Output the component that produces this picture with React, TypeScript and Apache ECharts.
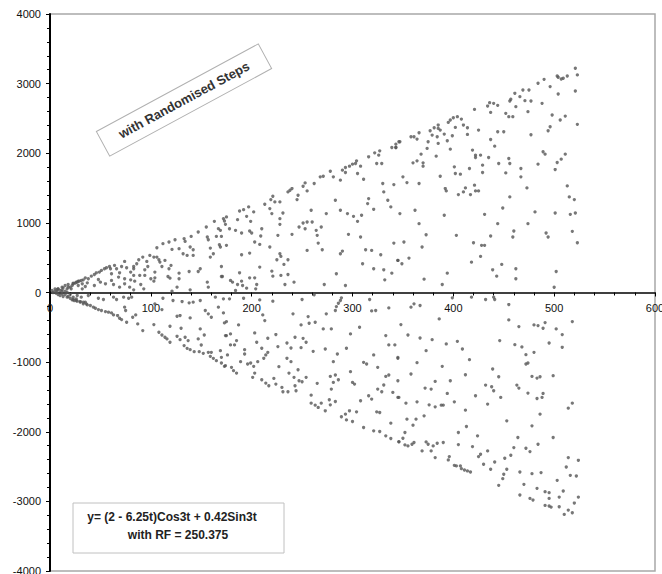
import React, { useEffect, useRef } from "react";
import * as echarts from "echarts";

// Axis ranges and tick spacing
const xRange = [0, 600];
const xStep = 100;
const yRange = [-4000, 4000];
const yStep = 1000;

// Annotation texts
const noteTitle = "with Randomised Steps";
const formulaLine1 = "y= (2 - 6.25t)Cos3t + 0.42Sin3t";
const formulaLine2 = "with RF = 250.375";

// Points, grouped by region: [t, y]
const pointsOrigin: [number, number][] = [
  [5,19],[7,38],[8,53],[10,29],[12,38],[13,67],[15,19],[17,53],[18,77],[8,-29],[10,-43],[12,-19],[13,-58],[15,-29],[18,-58],[20,-29],[22,101],[23,125],[25,134],[27,149],[29,163],[32,125],[33,182],[22,-106],[24,-115],[26,-91],[27,-125],[30,-139],[33,-163],[35,-139],[37,-178],[23,-67],[27,-43],[3,0],[6,-10],[7,10],[12,10],[17,0]
];

const pointsUpperLeft: [number, number][] = [
  [172,1061],[163,1022],[155,941],[167,917],[170,806],[165,806],[156,797],[157,758],[147,869],[140,806],[133,773],[134,734],[139,653],[124,758],[118,725],[112,701],[106,643],[121,619],[128,629],[132,557],[136,533],[142,533],[142,614],[159,638],[168,686],[159,509],[162,557],[170,374],[170,230],[156,149],[157,77],[149,341],[147,302],[138,302],[128,278],[119,206],[117,230],[128,197],[126,77],[139,38],[114,461],[118,341],[120,389],[108,470],[106,509],[103,509],[109,437],[111,374],[104,211],[97,374],[94,326],[96,446],[99,533],[92,509],[88,470],[86,413],[94,245],[89,245],[83,245],[80,182],[84,163],[90,115],[83,374],[83,341],[80,293],[76,355],[74,446],[71,374],[69,283],[68,221],[74,197],[63,115],[69,77],[79,77],[61,269],[60,341],[64,389],[66,341],[59,374],[56,355],[54,341],[51,317],[49,293],[46,283],[44,259],[41,235],[38,197],[35,211],[31,173],[28,163],[26,149],[23,134],[48,187],[50,149],[55,125],[32,53],[35,86],[44,101],[61,173],[74,125],[100,197],[103,163],[104,293],[121,19],[93,53],[83,38],[15,101],[18,115],[20,77],[12,77],[8,53],[5,53],[2,29],[21,53],[28,101],[37,139]
];

const pointsLowerLeft: [number, number][] = [
  [174,-1051],[170,-1013],[165,-979],[162,-946],[159,-917],[157,-859],[152,-874],[148,-850],[143,-850],[139,-821],[136,-802],[133,-763],[150,-754],[147,-667],[149,-523],[153,-610],[160,-859],[134,-643],[137,-691],[129,-677],[126,-629],[130,-514],[119,-485],[116,-667],[119,-715],[114,-643],[111,-610],[108,-571],[103,-461],[92,-547],[87,-451],[85,-322],[111,-245],[104,-163],[75,-259],[74,-211],[82,-355],[76,-427],[71,-389],[69,-370],[67,-331],[63,-322],[61,-293],[58,-283],[55,-274],[51,-259],[48,-245],[45,-226],[43,-211],[40,-187],[36,-163],[33,-139],[30,-130],[26,-115],[23,-101],[20,-82],[17,-67],[31,-67],[38,-43],[48,-82],[53,-101],[63,-67],[66,-101],[73,-67],[78,-82],[81,-67],[122,-115],[131,-130],[138,-149],[142,-139],[149,-115],[129,-331],[126,-341],[139,-365],[154,-259],[157,-307],[160,-355],[167,-211],[164,-67],[174,-619],[112,-82]
];

const pointsUpperMid: [number, number][] = [
  [346,2165],[343,2083],[339,2083],[327,2035],[322,2006],[326,1973],[324,1853],[329,1853],[316,1949],[304,1891],[303,1853],[300,1843],[297,1814],[293,1795],[308,1814],[290,1757],[293,1723],[305,1709],[311,1627],[288,1613],[281,1661],[278,1742],[268,1661],[271,1670],[262,1565],[253,1574],[251,1526],[255,1459],[238,1469],[236,1445],[240,1493],[246,1397],[245,1334],[221,1382],[219,1334],[223,1301],[228,1301],[213,1267],[218,1205],[220,1133],[231,1142],[228,1061],[228,979],[202,1157],[197,1229],[192,1190],[188,1171],[195,1094],[199,1022],[186,1046],[175,1085],[173,1027],[174,979],[178,916],[184,893],[169,893],[190,854],[198,883],[200,854],[210,916],[209,811],[203,725],[208,691],[218,653],[198,566],[190,542],[175,677],[169,653],[226,821],[240,835],[247,941],[251,998],[255,1013],[260,1013],[253,916],[264,893],[269,941],[259,1181],[274,1133],[265,821],[266,710],[270,614],[255,605],[228,557],[229,518],[225,470],[236,470],[232,403],[220,307],[221,235],[229,245],[236,259],[233,115],[242,149],[208,365],[198,211],[203,211],[205,115],[204,53],[188,283],[190,163],[181,149],[179,173],[186,115],[191,101],[195,62],[171,230],[184,29],[283,1325],[288,1181],[295,1133],[301,1094],[305,1022],[309,1109],[315,1277],[316,1349],[321,1195],[330,1565],[331,1445],[335,1325],[338,1229],[341,1550],[341,710],[345,461],[296,835],[308,797],[313,614],[319,605],[328,542],[310,413],[321,341],[331,326],[332,182],[339,278],[284,269],[288,557],[290,595],[293,101],[272,115]
];

const pointsLowerMid: [number, number][] = [
  [172,-91],[178,-91],[192,-82],[208,-106],[221,-125],[250,-101],[262,-34],[211,-322],[213,-403],[241,-307],[256,-346],[257,-442],[249,-466],[263,-427],[274,-307],[271,-523],[279,-523],[283,-259],[284,-202],[286,-154],[288,-115],[289,-77],[319,-264],[323,-259],[336,-221],[317,-101],[307,-499],[298,-595],[294,-801],[273,-811],[261,-845],[254,-715],[251,-658],[249,-792],[243,-643],[239,-797],[235,-725],[235,-945],[239,-993],[224,-604],[226,-777],[216,-657],[210,-801],[205,-715],[203,-581],[212,-945],[214,-897],[216,-859],[206,-993],[202,-1061],[199,-1013],[196,-1027],[193,-883],[193,-821],[185,-691],[183,-753],[179,-753],[175,-619],[179,-595],[187,-466],[175,-418],[173,-437],[172,-293],[176,-897],[169,-835],[170,-931],[173,-1061],[180,-1075],[182,-1123],[185,-1157],[189,-993],[203,-1157],[201,-1219],[210,-1253],[214,-1301],[217,-1339],[222,-1234],[224,-1315],[230,-1363],[231,-1426],[236,-1426],[237,-1157],[242,-1219],[243,-1339],[244,-1411],[247,-1267],[250,-1282],[246,-1109],[254,-1219],[227,-1065],[265,-1305],[259,-1474],[259,-1589],[263,-1618],[266,-1651],[269,-1589],[273,-1699],[277,-1541],[283,-1565],[278,-1613],[279,-1387],[278,-1205],[283,-1185],[281,-1291],[286,-1253],[281,-993],[285,-883],[298,-1137],[300,-1291],[302,-1315],[311,-1003],[314,-1027],[321,-897],[325,-1075],[333,-1205],[336,-1185],[331,-1329],[325,-1387],[329,-1425],[340,-1435],[345,-1507],[319,-1531],[316,-1483],[308,-1555],[324,-1714],[327,-1723],[297,-1699],[304,-1714],[293,-1747],[289,-1785],[294,-1830],[300,-1853],[311,-1939],[321,-1987],[327,-1997],[333,-2059],[338,-2097],[338,-1877],[346,-2146],[333,-619],[336,-753],[342,-753],[345,-931]
];

const pointsUpperRight: [number, number][] = [
  [521,3221],[523,3125],[521,2894],[523,2415],[513,3110],[509,3077],[507,3067],[504,3091],[503,3110],[504,2851],[506,2477],[511,2534],[498,2549],[496,2381],[494,2323],[496,2957],[490,3062],[484,3005],[488,2717],[475,2909],[469,2909],[466,2813],[471,2755],[477,2750],[474,2597],[477,2266],[461,2861],[457,2775],[456,2750],[462,2669],[452,2573],[455,2525],[459,2525],[450,2309],[444,2309],[444,2688],[440,2717],[436,2726],[434,2678],[437,2587],[421,2630],[437,2198],[441,2102],[425,2333],[408,2491],[404,2525],[400,2510],[397,2477],[395,2443],[402,2371],[410,2405],[414,2366],[414,2270],[399,2251],[394,2179],[397,2059],[391,2275],[385,2405],[385,2357],[381,2366],[387,2333],[377,2323],[379,2261],[384,2237],[385,2141],[375,2165],[374,2069],[383,1958],[366,2294],[364,2203],[358,2237],[361,2237],[347,2165],[343,2131],[343,2083],[368,1987],[370,1862],[370,1814],[364,1891],[360,1862],[350,1661],[354,1579],[366,1565],[347,1133],[362,1181],[366,989],[373,830],[351,725],[369,653],[345,461],[349,413],[356,494],[371,192],[389,115],[394,278],[391,1109],[387,1670],[392,1493],[393,1459],[401,1805],[402,1709],[407,1699],[405,1406],[410,1445],[412,1502],[417,1406],[421,1541],[422,1459],[425,1459],[416,1781],[419,2045],[422,1973],[422,1939],[427,1973],[429,1829],[429,1723],[435,1939],[445,1853],[452,1718],[455,1925],[456,1853],[456,1373],[449,1214],[431,1123],[420,715],[428,677],[431,677],[437,811],[444,989],[427,518],[418,436],[439,326],[448,403],[443,235],[462,341],[462,197],[459,797],[460,883],[474,989],[481,1157],[467,1661],[467,1781],[473,1502],[484,1843],[489,2021],[491,1987],[501,1766],[503,1867],[507,1915],[511,1987],[513,1531],[515,1373],[520,1334],[516,1123],[521,1142],[518,878],[523,715],[501,1142],[492,854],[494,797],[502,302],[500,76],[403,821]
];

const pointsLowerRight: [number, number][] = [
  [518,-418],[508,-605],[508,-787],[502,-523],[495,-725],[491,-432],[489,-514],[484,-475],[480,-466],[480,-859],[499,-1195],[486,-1210],[483,-1229],[478,-1205],[474,-1013],[472,-1027],[472,-893],[468,-782],[461,-749],[465,-490],[455,-394],[455,-173],[446,-691],[439,-1099],[445,-1210],[438,-1354],[440,-1411],[434,-1603],[432,-1330],[447,-1507],[463,-1330],[465,-1373],[474,-1445],[489,-1450],[488,-1507],[483,-1522],[486,-1747],[478,-1915],[484,-2179],[499,-2083],[514,-1661],[518,-1589],[453,-1843],[464,-2083],[460,-2227],[457,-2338],[451,-2381],[453,-2539],[450,-2611],[449,-2674],[445,-2770],[441,-2434],[437,-2539],[434,-2275],[430,-2467],[427,-2323],[425,-2357],[424,-2059],[419,-2213],[417,-2578],[414,-2563],[411,-2549],[408,-2530],[407,-2491],[403,-2491],[401,-2482],[396,-2357],[395,-2405],[405,-2184],[405,-2011],[413,-1925],[412,-1690],[401,-1570],[394,-1450],[397,-1267],[390,-1618],[388,-1618],[382,-1642],[376,-1613],[382,-1277],[378,-1387],[372,-1373],[371,-1771],[364,-1570],[364,-1008],[358,-1171],[355,-610],[358,-211],[361,-163],[367,-187],[367,-653],[373,-835],[379,-677],[386,-379],[389,-1061],[393,-739],[404,-701],[409,-811],[416,-965],[412,-1181],[422,-1483],[348,-461],[345,-946],[345,-1267],[346,-1507],[353,-1589],[354,-1819],[360,-1906],[363,-1819],[352,-2011],[350,-2093],[346,-2141],[352,-2189],[355,-2203],[359,-2179],[361,-2155],[369,-2275],[373,-2146],[375,-2179],[378,-2275],[380,-2203],[384,-2165],[390,-2155],[382,-2371],[466,-2578],[470,-2755],[466,-2909],[476,-2957],[479,-2981],[483,-2813],[478,-2602],[487,-2587],[491,-2861],[495,-2875],[495,-2957],[491,-3058],[495,-3067],[497,-3082],[505,-3077],[505,-2938],[509,-2851],[503,-2698],[512,-2506],[514,-2371],[516,-2626],[522,-2635],[524,-2410],[524,-2938],[520,-3024],[518,-3163],[514,-3125],[510,-3187],[432,-101],[440,-67],[441,-101],[418,-67],[399,-77],[472,-2237],[476,-2285]
];

const allPoints = [
  ...pointsOrigin,
  ...pointsUpperLeft,
  ...pointsLowerLeft,
  ...pointsUpperMid,
  ...pointsLowerMid,
  ...pointsUpperRight,
  ...pointsLowerRight,
];

const FONT = '"Liberation Sans", Arial, sans-serif';
const W = 662;
const H = 574;
const GRID_TOP = 14;
const GRID_BOTTOM = 3;
const GRID_H = H - GRID_TOP - GRID_BOTTOM;

export default function App() {
  const ref = useRef<HTMLDivElement>(null);

  useEffect(() => {
    if (!ref.current) return;
    const chart = echarts.init(ref.current, null, { renderer: "svg" });
    const plain = (v: number) => String(v);
    chart.setOption({
      animation: false,
      backgroundColor: "#ffffff",
      grid: {
        left: 50,
        right: 7,
        top: GRID_TOP,
        bottom: GRID_BOTTOM,
        show: true,
        borderColor: "#a8a8a8",
        borderWidth: 1.5,
        backgroundColor: "transparent",
        containLabel: false,
        outerBoundsMode: "none",
      },
      xAxis: {
        type: "value",
        min: xRange[0],
        max: xRange[1],
        interval: xStep,
        position: "bottom",
        offset: -GRID_H / 2,
        axisLine: { show: true, onZero: false, lineStyle: { color: "#000", width: 1.5 } },
        axisTick: { show: true, length: 4, lineStyle: { color: "#000", width: 1 } },
        minorTick: { show: true, splitNumber: 5, length: 3, lineStyle: { color: "#000", width: 1 } },
        splitLine: { show: false },
        axisLabel: { color: "#111", fontSize: 11, fontFamily: FONT, margin: 10, formatter: plain },
      },
      yAxis: {
        type: "value",
        min: yRange[0],
        max: yRange[1],
        interval: yStep,
        axisLine: { show: true, onZero: false, lineStyle: { color: "#000", width: 2 } },
        axisTick: { show: true, length: 4, lineStyle: { color: "#000", width: 1 } },
        minorTick: { show: true, splitNumber: 5, length: 3, lineStyle: { color: "#000", width: 1 } },
        splitLine: { show: false },
        axisLabel: { color: "#111", fontSize: 11, fontFamily: FONT, margin: 9, formatter: plain },
      },
      series: [
        {
          type: "scatter",
          data: allPoints,
          symbol: "circle",
          symbolSize: 3.3,
          itemStyle: { color: "#555555" },
          silent: true,
        },
      ],
      graphic: [
        {
          type: "group",
          x: 184,
          y: 100,
          rotation: (28.4 * Math.PI) / 180,
          children: [
            {
              type: "rect",
              shape: { x: -92, y: -14, width: 184, height: 28 },
              style: { fill: "#fff", stroke: "#b0b0b0", lineWidth: 1 },
            },
            {
              type: "text",
              style: {
                text: noteTitle,
                x: 0,
                y: 0,
                align: "center",
                verticalAlign: "middle",
                font: `bold 13px ${FONT}`,
                fill: "#333",
              },
            },
          ],
        },
        {
          type: "rect",
          shape: { x: 73, y: 503, width: 211, height: 50 },
          style: { fill: "#fff", stroke: "#c0c0c0", lineWidth: 1 },
        },
        {
          type: "text",
          style: {
            text: formulaLine1,
            x: 172,
            y: 517,
            align: "center",
            verticalAlign: "middle",
            font: `bold 12px ${FONT}`,
            fill: "#222",
          },
        },
        {
          type: "text",
          style: {
            text: formulaLine2,
            x: 178,
            y: 535,
            align: "center",
            verticalAlign: "middle",
            font: `bold 12px ${FONT}`,
            fill: "#222",
          },
        },
      ],
    });
    return () => chart.dispose();
  }, []);

  return (
    <div
      ref={ref}
      style={{ position: "fixed", left: 0, top: 0, width: W, height: H }}
    />
  );
}
